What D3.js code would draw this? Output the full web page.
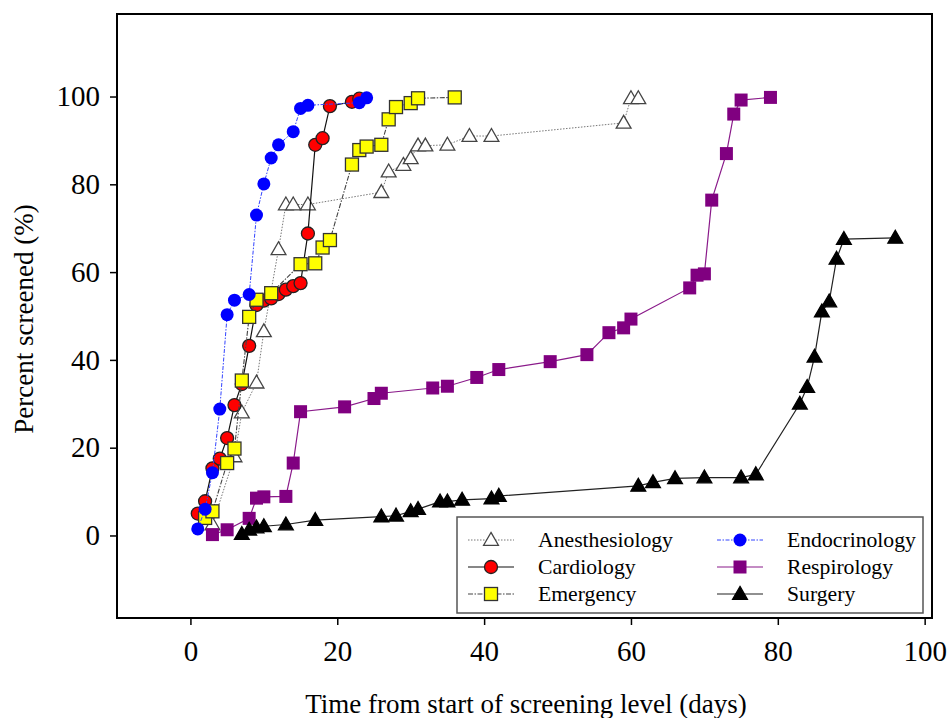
<!DOCTYPE html>
<html>
<head>
<meta charset="utf-8">
<script src="https://cdn.jsdelivr.net/npm/d3@7"></script>
<style>
  body { margin: 0; background: #fff; }
  text { font-family: "Liberation Serif", "Times New Roman", serif; fill: #000; }
</style>
</head>
<body>
<div id="chart"></div>
<script>
// data: [day, percent screened]
var anesthesiology = [[3,2.5],[6,18],[7,28],[9,34.8],[10,46.5],[12,65.2],[13,75.4],[14,75.4],[16,75.4],
  [26,78.2],[27,82.9],[29,84.4],[30,85.9],[31,88.8],[32,88.8],[35,89],[38,91],[41,91],[59,94],[60,99.6],[61,99.6]];
var cardiology = [[1,5],[2,7.8],[3,15.3],[4,17.5],[5,22.2],[6,29.7],[7,34.5],[8,43.2],[9,52.5],[10,53.5],
  [11,54],[12,55],[13,56],[14,56.8],[15,57.5],[16,68.8],[17,89],[18,90.5],[19,97.8],[22,98.8],[23,99.5]];
var emergency = [[2,4],[3,5.5],[5,16.5],[6,19.8],[7,35.3],[8,49.8],[9,53.7],[11,55.2],[15,61.8],[17,62],
  [18,65.6],[19,67.3],[22,84.5],[23,87.8],[24,88.6],[26,89],[27,94.8],[28,97.6],[30,98.5],[31,99.6],[36,99.8]];
var endocrinology = [[1,1.5],[2,6],[3,14.3],[4,28.8],[5,50.3],[6,53.6],[8,54.9],[9,73],[10,80.1],[11,86],
  [12,89],[14,92],[15,97.3],[16,98],[23,98.6],[24,99.7]];
var respirology = [[3,0.2],[5,1.3],[8,3.9],[9,8.5],[10,8.8],[13,8.9],[14,16.5],[15,28.2],[21,29.3],[25,31.2],
  [26,32.4],[33,33.6],[35,34],[39,36],[42,37.8],[49,39.6],[54,41.2],[57,46.2],[59,47.3],[60,49.3],[68,56.4],
  [69,59.3],[70,59.6],[71,76.4],[73,87],[74,96],[75,99.2],[79,99.8]];
var surgery = [[7,0.3],[8,1.3],[9,1.8],[10,2.1],[13,2.5],[17,3.5],[26,4.3],[28,4.5],[30,5.5],[31,6],[34,7.7],
  [35,7.7],[37,8.1],[41,8.4],[42,9],[61,11.3],[63,12.1],[66,13],[70,13.2],[75,13.2],[77,13.9],[83,30],[84,33.8],
  [85,40.7],[86,51],[87,53.3],[88,63],[89,67.5],[96,67.8]];

var xTicks = [0, 20, 40, 60, 80, 100];
var yTicks = [0, 20, 40, 60, 80, 100];

// series styling
var series = [
  {name: "Anesthesiology", data: anesthesiology, line: "#777", dash: "1.5,1.5", width: 1, shape: "tri", fill: "#fff", stroke: "#444"},
  {name: "Cardiology", data: cardiology, line: "#111", dash: null, width: 1.2, shape: "circle", fill: "#ff0000", stroke: "#222"},
  {name: "Emergency", data: emergency, line: "#444", dash: "5,1.5,1.5,1.5", width: 1.1, shape: "square", fill: "#ffff00", stroke: "#333"},
  {name: "Endocrinology", data: endocrinology, line: "#3344ff", dash: "4,1.5,1.5,1.5", width: 1, shape: "circle", fill: "#0000ff", stroke: "none"},
  {name: "Respirology", data: respirology, line: "#8a1a8a", dash: null, width: 1.2, shape: "square", fill: "#800080", stroke: "none"},
  {name: "Surgery", data: surgery, line: "#222", dash: null, width: 1.2, shape: "tri", fill: "#000", stroke: "#000"}
];

var svgWidth = 949, svgHeight = 718;
var svg = d3.select("#chart").append("svg")
  .attr("width", svgWidth)
  .attr("height", svgHeight);

var x = d3.scaleLinear().domain([-10, 101]).range([117, 932]);
var y = d3.scaleLinear().domain([-18.8, 118.8]).range([618, 14]);

// axes
var xAxis = svg.append("g")
  .attr("transform", "translate(0,618)")
  .call(d3.axisBottom(x).tickValues(xTicks).tickSize(7).tickPadding(15).tickSizeOuter(0));
var yAxis = svg.append("g")
  .attr("transform", "translate(117,0)")
  .call(d3.axisLeft(y).tickValues(yTicks).tickSize(7).tickPadding(10).tickSizeOuter(0));
[xAxis, yAxis].forEach(function(g) {
  g.select(".domain").remove();
  g.selectAll("line").attr("stroke", "#000").attr("stroke-width", 1.5);
  g.selectAll("text").style("font-size", "29px").style("font-family", "Liberation Serif");
});

// plot frame
svg.append("rect")
  .attr("x", 117).attr("y", 14)
  .attr("width", 932 - 117).attr("height", 618 - 14)
  .attr("fill", "none").attr("stroke", "#000").attr("stroke-width", 2);

var line = d3.line().x(d => x(d[0])).y(d => y(d[1]));

function drawMarker(g, shape, cx, cy, s) {
  var m;
  if (shape === "circle") {
    m = g.append("circle").attr("cx", cx).attr("cy", cy).attr("r", 6.5);
  } else if (shape === "square") {
    m = g.append("rect").attr("x", cx - 6.5).attr("y", cy - 6.5).attr("width", 13).attr("height", 13);
  } else {
    m = g.append("path").attr("d", d3.symbol(d3.symbolTriangle, 95)()).attr("transform", `translate(${cx},${cy + 1})`);
  }
  m.attr("fill", s.fill).attr("stroke", s.stroke).attr("stroke-width", 1.3);
  return m;
}

series.forEach(function(s) {
  var g = svg.append("g");
  g.append("path")
    .datum(s.data)
    .attr("d", line)
    .attr("fill", "none")
    .attr("stroke", s.line)
    .attr("stroke-width", s.width)
    .attr("stroke-dasharray", s.dash);
  s.data.forEach(function(d) {
    drawMarker(g, s.shape, x(d[0]), y(d[1]), s);
  });
});

// legend
var legend = svg.append("g");
legend.append("rect")
  .attr("x", 457).attr("y", 517).attr("width", 466).attr("height", 96)
  .attr("fill", "#fff").attr("stroke", "#555").attr("stroke-width", 1.5);
series.forEach(function(s, i) {
  var col = Math.floor(i / 3), row = i % 3;
  var lx = col === 0 ? 468 : 717;
  var ly = 540 + row * 27;
  var g = legend.append("g");
  g.append("line")
    .attr("x1", lx).attr("x2", lx + 46).attr("y1", ly).attr("y2", ly)
    .attr("stroke", s.line).attr("stroke-width", s.width).attr("stroke-dasharray", s.dash);
  drawMarker(g, s.shape, lx + 23, ly, s);
  g.append("text")
    .attr("x", lx + 70).attr("y", ly + 7)
    .style("font-size", "21.7px")
    .text(s.name);
});

// axis titles
svg.append("text")
  .attr("x", 526).attr("y", 713)
  .attr("text-anchor", "middle")
  .style("font-size", "27px")
  .text("Time from start of screening level (days)");

svg.append("text")
  .attr("transform", "translate(33,319) rotate(-90)")
  .attr("text-anchor", "middle")
  .style("font-size", "27px")
  .text("Percent screened (%)");
</script>
</body>
</html>
